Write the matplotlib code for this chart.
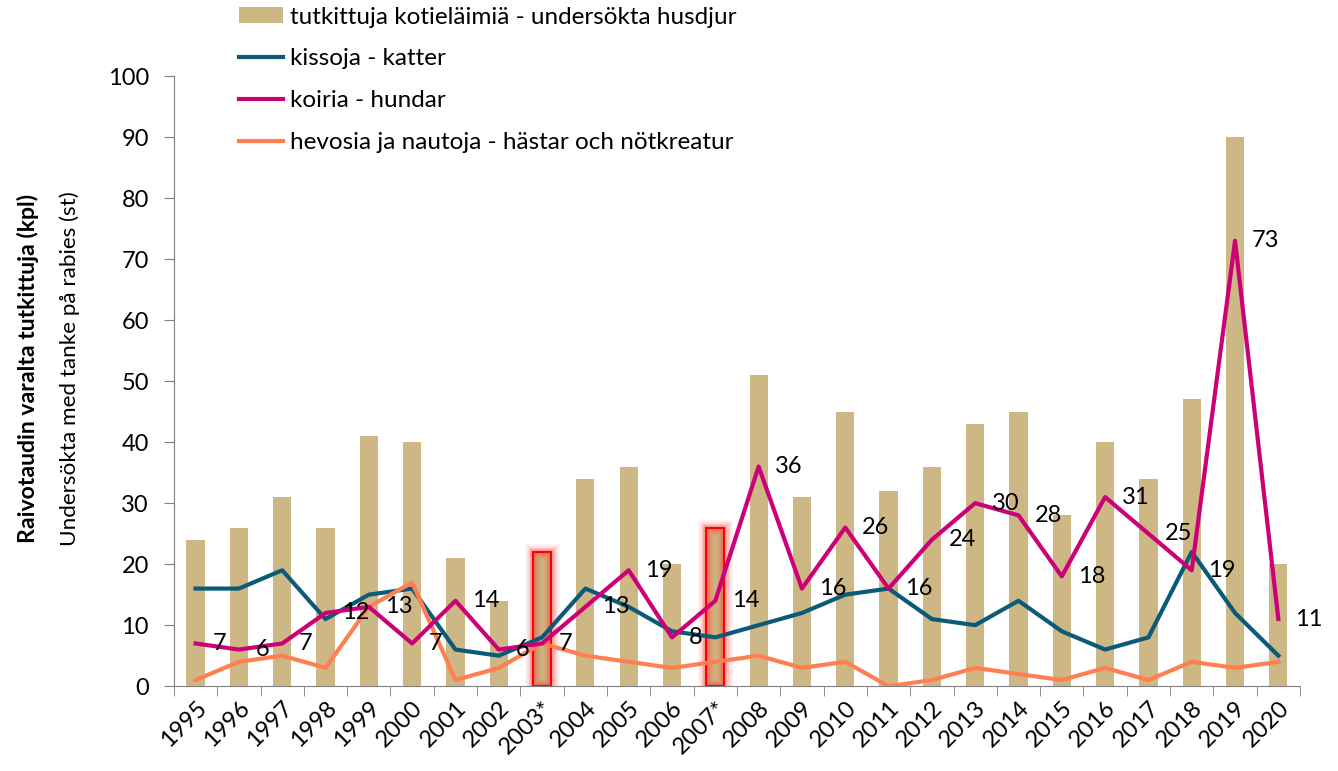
import numpy as np
import matplotlib
matplotlib.use("Agg")
import matplotlib.pyplot as plt
from matplotlib.patches import Rectangle

plt.rcParams['font.family'] = ['Lato', 'DejaVu Sans']

# data
years = ['1995', '1996', '1997', '1998', '1999', '2000', '2001', '2002', '2003*',
         '2004', '2005', '2006', '2007*', '2008', '2009', '2010', '2011', '2012',
         '2013', '2014', '2015', '2016', '2017', '2018', '2019', '2020']
total = [24, 26, 31, 26, 41, 40, 21, 14, 22, 34, 36, 20, 26, 51, 31, 45, 32, 36,
         43, 45, 28, 40, 34, 47, 90, 20]
cats = [16, 16, 19, 11, 15, 16, 6, 5, 8, 16, 13, 9, 8, 10, 12, 15, 16, 11,
        10, 14, 9, 6, 8, 22, 12, 5]
dogs = [7, 6, 7, 12, 13, 7, 14, 6, 7, 13, 19, 8, 14, 36, 16, 26, 16, 24,
        30, 28, 18, 31, 25, 19, 73, 11]
horses = [1, 4, 5, 3, 13, 17, 1, 3, 7, 5, 4, 3, 4, 5, 3, 4, 0, 1,
          3, 2, 1, 3, 1, 4, 3, 4]
highlight = ['2003*', '2007*']

tan = '#CDB785'
blue = '#0A5A78'
magenta = '#CC0077'
orange = '#FF7F50'

fig = plt.figure(figsize=(13.38, 7.71), dpi=100)
ax = fig.add_axes([0.130, 0.110, 0.8416, 0.7914])

x = np.arange(len(years))
bw = 0.42
bars = ax.bar(x, total, width=bw, color=tan, zorder=1,
              label='tutkittuja kotieläimiä - undersökta husdjur')

# red glowing outline on the starred years
for yr in highlight:
    i = years.index(yr)
    for lw, a in [(12, 0.07), (9, 0.1), (6.5, 0.15), (4, 0.25)]:
        ax.add_patch(Rectangle((i - bw / 2, 0), bw, total[i], fill=False,
                               edgecolor='#ff3030', lw=lw, alpha=a, zorder=2))
    ax.add_patch(Rectangle((i - bw / 2, 0), bw, total[i], fill=False,
                           edgecolor='red', lw=1.5, zorder=2))

l1, = ax.plot(x, cats, color=blue, lw=3, zorder=3, label='kissoja - katter')
l2, = ax.plot(x, dogs, color=magenta, lw=3, zorder=4, label='koiria - hundar')
l3, = ax.plot(x, horses, color=orange, lw=3, zorder=3,
              label='hevosia ja nautoja - hästar och nötkreatur')

for i, v in enumerate(dogs):
    ax.annotate(str(v), (x[i], v), xytext=(12, 0), textcoords='offset points',
                ha='left', va='center', fontsize=17, zorder=5)

ax.set_xlim(-0.5, len(years) - 0.5)
ax.set_ylim(0, 100)
ax.set_yticks(range(0, 101, 10))
ax.set_xticks(x)
ax.set_xticklabels(years, rotation=45, ha='right', rotation_mode='anchor', fontsize=17)
ax.set_xticks(np.arange(-0.5, len(years), 1), minor=True)
ax.tick_params(axis='x', which='major', length=0, pad=8)
ax.tick_params(axis='x', which='minor', length=7, color='#7f7f7f')
ax.tick_params(axis='y', length=7, color='#7f7f7f', labelsize=17, pad=11)

for s in ['top', 'right']:
    ax.spines[s].set_visible(False)
for s in ['left', 'bottom']:
    ax.spines[s].set_color('#7f7f7f')

fig.text(0.021, 0.522, 'Raivotaudin varalta tutkittuja (kpl)', rotation=90,
         fontsize=16.6, fontweight='bold', ha='center', va='center')
fig.text(0.0523, 0.522, 'Undersökta med tanke på rabies (st)', rotation=90,
         fontsize=16.2, ha='center', va='center')

fig.legend(handles=[bars, l1, l2, l3], loc='upper left',
           bbox_to_anchor=(0.171, 1.004), frameon=False,
           fontsize=17.5, handlelength=1.85, handleheight=0.58,
           handletextpad=0.25, labelspacing=0.85, borderaxespad=0)

fig.savefig('out.png', dpi=100)
